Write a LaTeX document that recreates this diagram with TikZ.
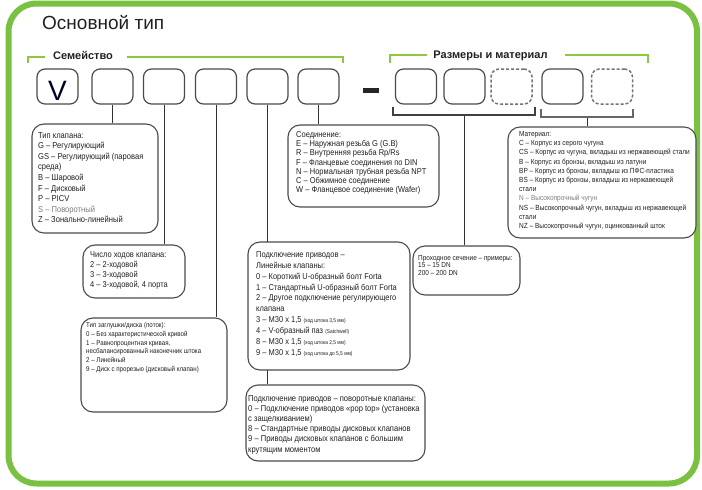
\documentclass[tikz,border=0pt]{standalone}
\usepackage{fontspec}
\setmainfont{Liberation Sans}
\newfontfamily\nf[FakeStretch=0.88]{Liberation Sans}
\usetikzlibrary{calc}
\definecolor{frameg}{RGB}{122,193,66}
\definecolor{brackg}{RGB}{141,198,63}
\definecolor{txt}{RGB}{35,31,32}
\definecolor{boxline}{RGB}{75,75,75}
\definecolor{grtxt}{RGB}{125,125,125}
\pgfdeclarelayer{bg}
\pgfsetlayers{bg,main}
\newcommand{\fs}[2]{\fontsize{#1}{#2}\selectfont}
\newcommand{\desctext}[2]{\parbox[t]{220pt}{\nf#1\raggedright #2}}
\tikzset{
  cell/.style={draw=boxline, line width=1.2pt, rounded corners=8pt, minimum width=41pt, minimum height=35pt, inner sep=0pt, fill=white},
  dcell/.style={cell, draw=black!55, dash pattern=on 3pt off 2pt, line width=1.5pt},
  desc/.style={draw=boxline, line width=1.1pt, rounded corners=12pt, fill=white, inner sep=0pt},
  dtext/.style={anchor=base west, inner sep=0pt, text=txt},
  conn/.style={draw=black!80, line width=1pt},
  gbr/.style={draw=brackg, line width=2.8pt},
  kbr/.style={draw=black!75, line width=1.2pt},
  brlabel/.style={anchor=base, inner sep=0pt, text=txt, font=\bfseries\fs{11}{13}},
}
\begin{document}
\begin{tikzpicture}[x=1pt,y=-1pt]
\useasboundingbox (0,0) rectangle (702,490);
% frame
\draw[frameg, line width=6pt, rounded corners=28pt] (8.5,3.5) rectangle (697,483.5);
% title
\node[anchor=base west, inner sep=0pt, text=txt, font=\fs{19}{22}] (title) at (42,29) {Основной тип};
% green brackets
\node[brlabel] (fam) at (83,59) {Семейство};
\draw[gbr] (28,63) -- (28,57) -- (45,57);
\draw[gbr] (127,57) -- (343,57) -- (343,63);
\node[brlabel] (size) at (490.5,58) {Размеры и материал};
\draw[gbr] (390,63) -- (390,55) -- (427,55);
\draw[gbr] (565,55) -- (648,55) -- (648,63);
% code cells
\node[cell] (b1) at (57.5,86.5) {};
\node[anchor=base, inner sep=0pt, text=black!85!blue, font=\fs{28}{30}] (vl) at (57.5,100.5) {V};
\node[cell] (b2) at (112.5,86.5) {};
\node[cell] (b3) at (164,86.5) {};
\node[cell] (b4) at (216,86.5) {};
\node[cell] (b5) at (267.5,86.5) {};
\node[cell] (b6) at (318.5,86.5) {};
\node[fill=black!85, minimum width=16pt, minimum height=4.5pt, inner sep=0pt] (dash) at (371,90.5) {};
\node[cell] (r1) at (416,86.5) {};
\node[cell] (r2) at (464.5,86.5) {};
\node[dcell] (r3) at (511.5,86.5) {};
\node[cell] (r4) at (562.5,86.5) {};
\node[dcell] (r5) at (612,86.5) {};
% black brackets under size cells
\coordinate (k1) at (464,115);
\coordinate (k2) at (587,117);
\draw[kbr] (393,107) -- (393,115) -- (535,115) -- (535,107);
\draw[kbr, draw=black!60] (541,109) -- (541,117) -- (633,117) -- (633,109);
% description boxes
\node[desc, minimum width=126pt, minimum height=109pt] (A) at (95,178.5) {};
\node[desc, minimum width=102pt, minimum height=53pt] (B) at (134,271.5) {};
\node[desc, minimum width=146pt, minimum height=94pt] (C) at (154,365) {};
\node[desc, minimum width=151pt, minimum height=82pt] (D) at (363.5,166) {};
\node[desc, minimum width=162pt, minimum height=128pt] (E) at (329,306) {};
\node[desc, minimum width=179pt, minimum height=76pt] (F) at (335.5,423) {};
\node[desc, minimum width=107pt, minimum height=49pt] (G) at (466.5,270.5) {};
\node[desc, minimum width=188pt, minimum height=111pt] (H) at (602,182.5) {};
% connectors
\begin{pgfonlayer}{bg}
\draw[conn] (b2.south) -- (b2.south |- A.north);
\draw[conn] (b3.south) -- (b3.south |- B.north);
\draw[conn] (b4.south) -- (b4.south |- C.north);
\draw[conn] (b5.south) -- (b5.south |- F.north);
\draw[conn] (b6.south) -- (b6.south |- D.north);
\draw[conn] (k1) -- (k1 |- G.north);
\draw[conn] (k2) -- (k2 |- H.north);
\end{pgfonlayer}
% texts
\node[dtext] (At) at (38,138) {\desctext{\fs{8.6}{10.6}}{Тип клапана:\\
G – Регулирующий\\
GS – Регулирующий (паровая\\
среда)\\
B – Шаровой\\
F – Дисковый\\
P – PICV\\
{\color{grtxt}S – Поворотный}\\
Z – Зонально-линейный}};
\node[dtext] (Bt) at (90,257) {\desctext{\fs{8.5}{10.3}}{Число ходов клапана:\\
2 – 2-ходовой\\
3 – 3-ходовой\\
4 – 3-ходовой, 4 порта}};
\node[dtext] (Ct) at (86,327.5) {\desctext{\fs{7}{8.8}}{Тип заглушки/диска (поток):\\
0 – Без характеристической кривой\\
1 – Равнопроцентная кривая,\\
несбалансированный наконечник штока\\
2 – Линейный\\
9 – Диск с прорезью (дисковый клапан)}};
\node[dtext] (Dt) at (296,137.5) {\desctext{\fs{8.5}{9.2}}{Соединение:\\
E – Наружная резьба G (G.B)\\
R – Внутренняя резьба Rp/Rs\\
F – Фланцевые соединения по DIN\\
N – Нормальная трубная резьба NPT\\
C – Обжимное соединение\\
W – Фланцевое соединение (Wafer)}};
\node[dtext] (Et) at (256,257.5) {\desctext{\fs{8.5}{10.85}}{Подключение приводов –\\
Линейные клапаны:\\
0 – Короткий U-образный болт Forta\\
1 – Стандартный U-образный болт Forta\\
2 – Другое подключение регулирующего\\
клапана\\
3 – M30 x 1,5 {\fs{5.5}{6}(ход штока 3,5 мм)}\\
4 – V-образный паз {\fs{5.5}{6}(Satchwell)}\\
8 – M30 x 1,5 {\fs{5.5}{6}(ход штока 2,5 мм)}\\
9 – M30 x 1,5 {\fs{5.5}{6}(ход штока до 5,5 мм)}}};
\node[dtext] (Ft) at (248,401) {\desctext{\fs{8.6}{10.2}}{Подключение приводов – поворотные клапаны:\\
0 – Подключение приводов «pop top» (установка\\
с защелкиванием)\\
8 – Стандартные приводы дисковых клапанов\\
9 – Приводы дисковых клапанов с большим\\
крутящим моментом}};
\node[dtext] (Gt) at (418,260) {\desctext{\fs{7.3}{7.7}}{Проходное сечение – примеры:\\
15 – 15 DN\\
200 – 200 DN}};
\node[dtext] (Ht) at (519,136.5) {\desctext{\fs{7.4}{9.2}}{Материал:\\
C – Корпус из серого чугуна\\
CS – Корпус из чугуна, вкладыш из нержавеющей стали\\
B – Корпус из бронзы, вкладыш из латуни\\
BP – Корпус из бронзы, вкладыш из ПФС-пластика\\
BS – Корпус из бронзы, вкладыш из нержавеющей\\
стали\\
{\color{grtxt}N – Высокопрочный чугун}\\
NS – Высокопрочный чугун, вкладыш из нержавеющей\\
стали\\
NZ – Высокопрочный чугун, оцинкованный шток}};
\end{tikzpicture}
\end{document}
